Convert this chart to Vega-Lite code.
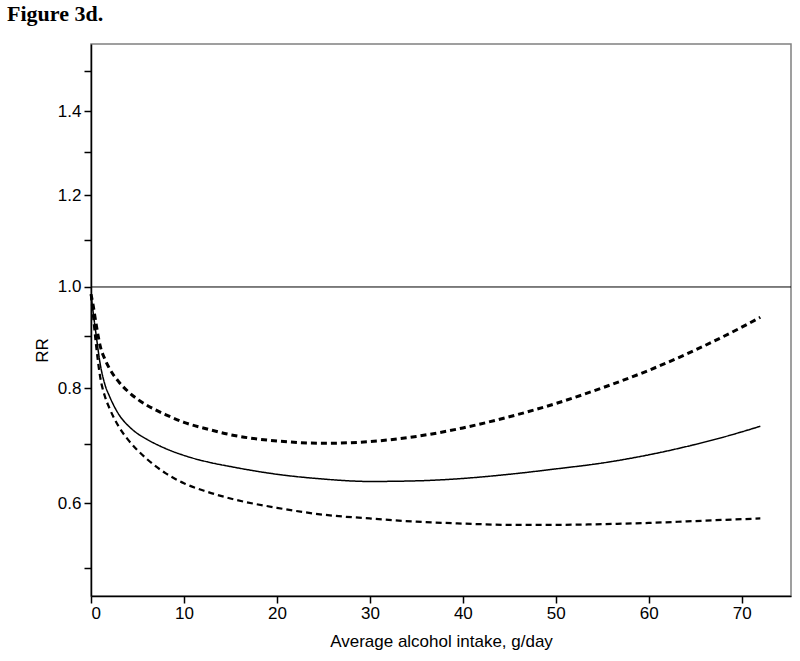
{
  "$schema": "https://vega.github.io/schema/vega-lite/v6.json",
  "autosize": {"type": "none"},
  "padding": {"left": 91, "top": 44, "right": 9, "bottom": 65},
  "width": 700,
  "height": 552,
  "background": "white",
  "title": {"text": "Figure 3d.", "anchor": "start", "frame": "group", "dx": -84, "offset": 1, "baseline": "alphabetic", "font": "Liberation Serif", "fontSize": 22, "fontWeight": "bold", "color": "black"},
  "config": {
    "view": {"stroke": "#808080", "strokeWidth": 1.5},
    "axis": {"labelFont": "Liberation Sans", "titleFont": "Liberation Sans", "labelFontSize": 17, "titleFontSize": 17, "titleFontWeight": "normal", "labelColor": "black", "titleColor": "black", "domainColor": "black", "tickColor": "black", "grid": false, "domainWidth": 1.5, "tickWidth": 1.5, "tickSize": 7}
  },
  "datasets": {
    "curves": [
      {"x": 0, "rr": 0.985, "series": "estimate"},
      {"x": 0.25, "rr": 0.945, "series": "estimate"},
      {"x": 0.5, "rr": 0.91, "series": "estimate"},
      {"x": 1, "rr": 0.845, "series": "estimate"},
      {"x": 1.5, "rr": 0.807, "series": "estimate"},
      {"x": 2, "rr": 0.785, "series": "estimate"},
      {"x": 3, "rr": 0.752, "series": "estimate"},
      {"x": 4, "rr": 0.732, "series": "estimate"},
      {"x": 5, "rr": 0.718, "series": "estimate"},
      {"x": 6, "rr": 0.708, "series": "estimate"},
      {"x": 8, "rr": 0.692, "series": "estimate"},
      {"x": 10, "rr": 0.680, "series": "estimate"},
      {"x": 12.5, "rr": 0.669, "series": "estimate"},
      {"x": 15, "rr": 0.661, "series": "estimate"},
      {"x": 20, "rr": 0.648, "series": "estimate"},
      {"x": 25, "rr": 0.640, "series": "estimate"},
      {"x": 30, "rr": 0.636, "series": "estimate"},
      {"x": 35, "rr": 0.637, "series": "estimate"},
      {"x": 40, "rr": 0.641, "series": "estimate"},
      {"x": 45, "rr": 0.648, "series": "estimate"},
      {"x": 50, "rr": 0.657, "series": "estimate"},
      {"x": 55, "rr": 0.667, "series": "estimate"},
      {"x": 60, "rr": 0.681, "series": "estimate"},
      {"x": 65, "rr": 0.699, "series": "estimate"},
      {"x": 70, "rr": 0.721, "series": "estimate"},
      {"x": 72, "rr": 0.731, "series": "estimate"},
      {"x": 0, "rr": 0.985, "series": "upper"},
      {"x": 0.25, "rr": 0.96, "series": "upper"},
      {"x": 0.5, "rr": 0.93, "series": "upper"},
      {"x": 1, "rr": 0.88, "series": "upper"},
      {"x": 1.5, "rr": 0.855, "series": "upper"},
      {"x": 2, "rr": 0.837, "series": "upper"},
      {"x": 3, "rr": 0.812, "series": "upper"},
      {"x": 4, "rr": 0.794, "series": "upper"},
      {"x": 5, "rr": 0.78, "series": "upper"},
      {"x": 6, "rr": 0.769, "series": "upper"},
      {"x": 8, "rr": 0.752, "series": "upper"},
      {"x": 10, "rr": 0.738, "series": "upper"},
      {"x": 12.5, "rr": 0.726, "series": "upper"},
      {"x": 15, "rr": 0.716, "series": "upper"},
      {"x": 20, "rr": 0.705, "series": "upper"},
      {"x": 25, "rr": 0.701, "series": "upper"},
      {"x": 30, "rr": 0.704, "series": "upper"},
      {"x": 35, "rr": 0.713, "series": "upper"},
      {"x": 40, "rr": 0.728, "series": "upper"},
      {"x": 45, "rr": 0.748, "series": "upper"},
      {"x": 50, "rr": 0.772, "series": "upper"},
      {"x": 55, "rr": 0.801, "series": "upper"},
      {"x": 60, "rr": 0.834, "series": "upper"},
      {"x": 65, "rr": 0.873, "series": "upper"},
      {"x": 70, "rr": 0.918, "series": "upper"},
      {"x": 72, "rr": 0.938, "series": "upper"},
      {"x": 0, "rr": 0.985, "series": "lower"},
      {"x": 0.25, "rr": 0.935, "series": "lower"},
      {"x": 0.5, "rr": 0.89, "series": "lower"},
      {"x": 1, "rr": 0.82, "series": "lower"},
      {"x": 1.5, "rr": 0.785, "series": "lower"},
      {"x": 2, "rr": 0.763, "series": "lower"},
      {"x": 3, "rr": 0.730, "series": "lower"},
      {"x": 4, "rr": 0.707, "series": "lower"},
      {"x": 5, "rr": 0.689, "series": "lower"},
      {"x": 6, "rr": 0.674, "series": "lower"},
      {"x": 8, "rr": 0.650, "series": "lower"},
      {"x": 10, "rr": 0.633, "series": "lower"},
      {"x": 12.5, "rr": 0.619, "series": "lower"},
      {"x": 15, "rr": 0.608, "series": "lower"},
      {"x": 20, "rr": 0.593, "series": "lower"},
      {"x": 25, "rr": 0.582, "series": "lower"},
      {"x": 30, "rr": 0.576, "series": "lower"},
      {"x": 35, "rr": 0.571, "series": "lower"},
      {"x": 40, "rr": 0.568, "series": "lower"},
      {"x": 45, "rr": 0.566, "series": "lower"},
      {"x": 50, "rr": 0.566, "series": "lower"},
      {"x": 55, "rr": 0.567, "series": "lower"},
      {"x": 60, "rr": 0.569, "series": "lower"},
      {"x": 65, "rr": 0.572, "series": "lower"},
      {"x": 72, "rr": 0.576, "series": "lower"}
    ],
    "ref": [{"rr": 1.0}]
  },
  "layer": [
    {
      "data": {"name": "ref"},
      "mark": {"type": "rule", "color": "black", "strokeWidth": 1},
      "encoding": {
        "y": {"field": "rr", "type": "quantitative", "scale": {"type": "sqrt", "domain": [0.46, 1.57], "zero": false, "nice": false}}
      }
    },
    {
      "data": {"name": "curves"},
      "mark": {"type": "line", "color": "black", "interpolate": "monotone", "strokeCap": "butt"},
      "encoding": {
        "x": {"field": "x", "type": "quantitative", "scale": {"domain": [0, 75.3], "nice": false, "zero": true},
              "axis": {"values": [0, 10, 20, 30, 40, 50, 60, 70], "title": "Average alcohol intake, g/day", "labelPadding": 2, "titlePadding": 12}},
        "y": {"field": "rr", "type": "quantitative", "scale": {"type": "sqrt", "domain": [0.46, 1.57], "zero": false, "nice": false},
              "axis": {"values": [0.5, 0.6, 0.7, 0.8, 0.9, 1.0, 1.1, 1.2, 1.3, 1.4, 1.5], "labelExpr": "round(datum.value*10) % 2 == 0 ? format(datum.value, '.1f') : ''", "title": "RR", "titleX": -40, "titleY": 306, "labelPadding": 3}},
        "strokeDash": {"field": "series", "type": "nominal", "scale": {"domain": ["estimate", "lower", "upper"], "range": [[1, 0], [6, 4], [6, 4]]}, "legend": null},
        "strokeWidth": {"field": "series", "type": "nominal", "scale": {"domain": ["estimate", "lower", "upper"], "range": [1.5, 3, 3]}, "legend": null}
      }
    }
  ]
}
